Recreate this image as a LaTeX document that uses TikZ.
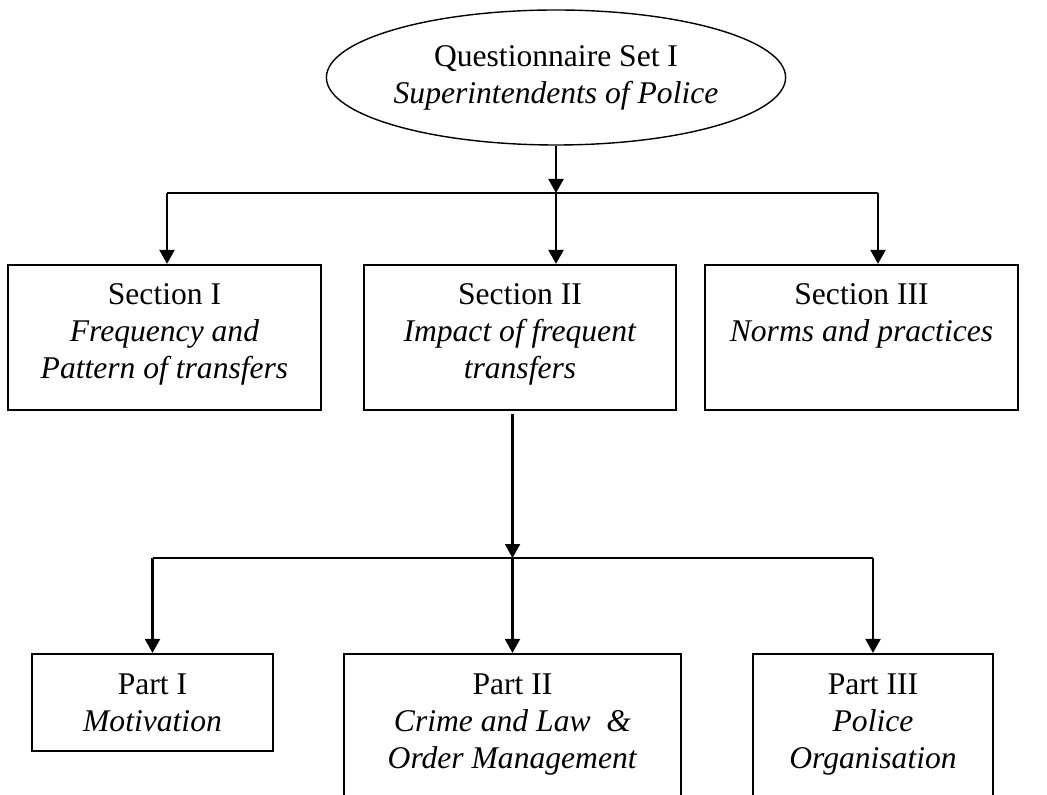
\documentclass[tikz,border=0pt]{standalone}
\usepackage{fontspec}
\setmainfont{Liberation Serif}
\usetikzlibrary{shapes.geometric,arrows.meta}
\tikzset{
  txtfont/.style={font=\fontsize{15.8}{18.5}\selectfont},
  oval/.style={draw, ellipse, line width=0.7pt, inner sep=0pt, minimum width=217pt, minimum height=67.5pt, align=center, txtfont},
  boxnode/.style={draw, rectangle, line width=1.1pt, inner sep=0pt, txtfont},
  conn/.style={line width=1.1pt},
  arr/.style={line width=1.1pt, -{Triangle[length=7pt,width=7.5pt]}}
}
\newcommand{\boxtext}[3]{\parbox[t][#2][t]{#1}{\centering\rule{0pt}{20pt}#3}}
\begin{document}
\begin{tikzpicture}[x=0.5pt,y=-0.5pt]
\useasboundingbox (0,0) rectangle (1047,795);
\fill[white] (0,0) rectangle (1047,795);
\clip (0,0) rectangle (1047,795);

% top ellipse
\node[oval] (q) at (556,77.5) {Questionnaire Set I\\\textit{Superintendents of Police}};

% sections
\node[boxnode] (secI) at (164.5,337.5) {\boxtext{156.5pt}{72.5pt}{Section I\\\textit{Frequency and}\\\textit{Pattern of transfers}}};
\node[boxnode] (secII) at (520,337.5) {\boxtext{156pt}{72.5pt}{Section II\\\textit{Impact of frequent}\\\textit{transfers}}};
\node[boxnode] (secIII) at (861.5,337.5) {\boxtext{156.5pt}{72.5pt}{Section III\\\textit{Norms and practices}}};

% parts
\node[boxnode] (partI) at (152.5,702.5) {\boxtext{120.5pt}{48.5pt}{Part I\\\textit{Motivation}}};
\node[boxnode] (partII) at (512.5,749) {\boxtext{168.5pt}{95pt}{Part II\\\textit{Crime and Law\ \ \&}\\\textit{Order Management}}};
\node[boxnode] (partIII) at (873,749) {\boxtext{120pt}{95pt}{Part III\\\textit{Police}\\\textit{Organisation}}};

% junctions
\coordinate (j1) at (556,193);
\coordinate (j1L) at (167,193);
\coordinate (j1R) at (878,193);
\coordinate (j2) at (512.5,558);

% top level connectors
\draw[arr] (q.south) -- (j1);
\draw[conn] (j1L) -- (j1R);
\draw[arr] (j1L) -- (j1L |- secI.north);
\draw[arr] (j1) -- (j1 |- secII.north);
\draw[arr] (j1R) -- (j1R |- secIII.north);

% second level connectors
\draw[arr] ([yshift=-1.5pt]j2 |- secII.south) -- (j2);
\draw[conn] (partI.north |- j2) -- (partIII.north |- j2);
\draw[arr] (partI.north |- j2) -- (partI.north);
\draw[arr] (j2) -- (partII.north);
\draw[arr] (partIII.north |- j2) -- (partIII.north);
\end{tikzpicture}
\end{document}
